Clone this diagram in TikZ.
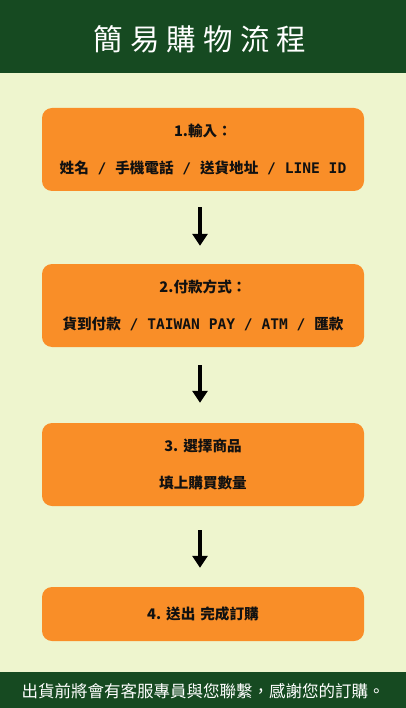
\documentclass[tikz,border=0pt]{standalone}
\usepackage{fontspec}
\usepackage{xcolor}
\usepackage{tikz}
\usetikzlibrary{arrows.meta, positioning}

\newfontfamily\cjkfont{Noto Sans CJK TC}
\newfontfamily\latinfont{DejaVu Sans Mono}
\newcommand{\en}[1]{{\latinfont #1}}
\newcommand{\gap}{\hspace{5pt}}

\definecolor{headgreen}{RGB}{22,74,33}
\definecolor{pagecream}{RGB}{238,245,206}
\definecolor{steporange}{RGB}{249,142,40}
\definecolor{inkdark}{RGB}{17,17,17}

\begin{document}
\begin{tikzpicture}[x=1pt, y=-1pt,
    stepbox/.style={fill=steporange, rounded corners=10pt, minimum width=322pt,
        inner sep=0pt, align=center, text=inkdark,
        font=\cjkfont\bfseries\fontsize{14.6}{37}\selectfont},
    flowarrow/.style={-{Triangle[width=15pt, length=12pt]}, line width=4pt, black}]

    % --- background, banner and footer ---
    \useasboundingbox (0,0) rectangle (406,708);
    \fill[pagecream] (0,0) rectangle (406,708);
    \fill[headgreen] (0,0) rectangle (406,73);
    \fill[headgreen] (0,672) rectangle (406,708);

    \node[text=white, font=\cjkfont\fontsize{29.5}{32}\selectfont] (title) at (200,39)
        {\addfontfeature{LetterSpace=24}簡易購物流程};

    % --- the four steps ---
    \node[stepbox, minimum height=83pt] (b1) at (203,149.5)
        {1.輸入：\\姓名\en{ / }手機電話\en{ / }送貨地址\en{ / LINE ID}};
    \node[stepbox, minimum height=83pt] (b2) at (203,305.5)
        {2.付款方式：\\貨到付款\en{ / TAIWAN PAY / ATM / }匯款};
    \node[stepbox, minimum height=83pt] (b3) at (203,464.5)
        {3.\gap 選擇商品\\填上購買數量};
    \node[stepbox, minimum height=54pt] (b4) at (203,614)
        {4.\gap 送出\gap 完成訂購};

    % arrows between steps
    \draw[flowarrow, shorten <=16pt, shorten >=18pt] ([xshift=-3pt]b1.south) -- ([xshift=-3pt]b2.north);
    \draw[flowarrow, shorten <=18pt, shorten >=20pt] ([xshift=-3pt]b2.south) -- ([xshift=-3pt]b3.north);
    \draw[flowarrow, shorten <=24pt, shorten >=19pt] ([xshift=-3pt]b3.south) -- ([xshift=-3pt]b4.north);

    % --- footer note ---
    \node[text=white, font=\cjkfont\fontsize{16.5}{18}\selectfont] (note) at (203,691)
        {出貨前將會有客服專員與您聯繫，感謝您的訂購。};

\end{tikzpicture}
\end{document}
